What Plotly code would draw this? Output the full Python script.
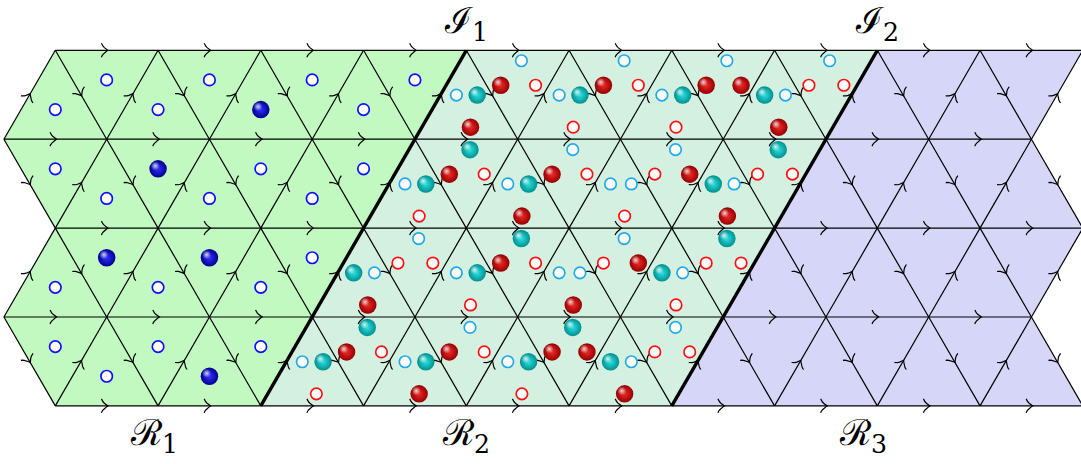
import numpy as np
import plotly.graph_objects as go

# ---------------- data (lattice units: triangle side = 1, y = 4 on the top line) ----------------
N_LINES = 5                                   # horizontal lattice lines, top (0) to bottom (4)
LINE_X_OFFSET = [0.0, -0.5, 0.0, -0.5, 0.0]   # x of the first vertex on each line
N_VERTS_PER_LINE = 11
I1_ENDS = [(4.0, 4.0), (2.0, 0.0)]            # interface I1 (top end, bottom end)
I2_ENDS = [(8.0, 4.0), (6.0, 0.0)]            # interface I2

REGION_FILLS = ["#c1f9c1", "#d4f0e1", "#d6d6f9"]

# R1: filled blue balls, given as (row, triangle kind, centroid x); every other R1 triangle has an open circle
R1_FILLED = [(0, "up", 2.0), (1, "down", 1.0), (2, "down", 0.5), (2, "down", 1.5), (3, "up", 1.5)]

# R2: site states per row, triangles left to right (1 = filled ball, 0 = open circle)
# up triangle sites: cyan-left, cyan-right, red-bottom ; down triangle sites: cyan-top, red-left, red-right
R2_ROW0 = ["011", "010", "010", "010", "010", "011", "101", "000"]
R2_ROW1 = ["010", "110", "011", "010", "000", "001", "101", "100"]
R2_ROW2 = ["101", "000", "010", "110", "001", "001", "100", "100"]
R2_ROW3 = ["010", "110", "011", "010", "010", "111", "101", "000"]
R2_ROWS = [R2_ROW0, R2_ROW1, R2_ROW2, R2_ROW3]

LABEL_TEXTS = ["ℐ<sub>1</sub>", "ℐ<sub>2</sub>", "ℛ<sub>1</sub>", "ℛ<sub>2</sub>", "ℛ<sub>3</sub>"]
LABEL_X = [4.0, 8.0, 0.96, 4.0, 7.86]
LABEL_Y = [4.30, 4.30, -0.33, -0.33, -0.33]

# ---------------- layout constants ----------------
W, H = 1081, 464
SX, SY = 102.75, 88.9          # pixels per lattice unit
X0_PX, YTOP_PX = 55.3, 50.3    # pixel of lattice x = 0, pixel of top line (y = 4)

# site offsets from the triangle centroid, in pixels (screen, y down)
UP_SITES = [(-9.9, -14.5, "c"), (10.9, -14.5, "c"), (4.2, 17.6, "r")]
DOWN_SITES = [(3.7, -19.2, "c"), (-17.0, 5.3, "r"), (17.9, 5.3, "r")]


def to_px(x, y):
    return X0_PX + SX * x, YTOP_PX + SY * (4 - y)


def from_px(px, py):
    return (px - X0_PX) / SX, 4 - (py - YTOP_PX) / SY


def line_xs(j):
    return [LINE_X_OFFSET[j] + k for k in range(N_VERTS_PER_LINE)]


def key(v):
    return round(v, 4)


# triangles
tris = []
for r in range(N_LINES - 1):
    yt, yb = 4 - r, 3 - r
    top = line_xs(r)
    topset = set(key(v) for v in top)
    bot = set(key(v) for v in line_xs(r + 1))
    for x in top:
        if key(x - 0.5) in bot and key(x + 0.5) in bot:
            tris.append((r, "up", x, yt - 2 / 3))
        if key(x + 1) in topset and key(x + 0.5) in bot:
            tris.append((r, "down", x + 0.5, yt - 1 / 3))


def region_of(cx, cy):
    b1 = I1_ENDS[1][0] + (I1_ENDS[0][0] - I1_ENDS[1][0]) * cy / 4
    b2 = I2_ENDS[1][0] + (I2_ENDS[0][0] - I2_ENDS[1][0]) * cy / 4
    if cx < b1:
        return 0
    if cx < b2:
        return 1
    return 2


# edges (oriented with increasing x)
edges = []
for j in range(N_LINES):
    xs = line_xs(j)
    y = 4 - j
    for a, b in zip(xs[:-1], xs[1:]):
        edges.append(((a, y), (b, y)))
for j in range(N_LINES - 1):
    yt, yb = 4 - j, 3 - j
    bot = set(key(v) for v in line_xs(j + 1))
    for x in line_xs(j):
        if key(x - 0.5) in bot:
            edges.append(((x - 0.5, yb), (x, yt)))
        if key(x + 0.5) in bot:
            edges.append(((x, yt), (x + 0.5, yb)))

fig = go.Figure()


def outline(side):
    return [(LINE_X_OFFSET[j] + (0 if side == "L" else N_VERTS_PER_LINE - 1), 4 - j) for j in range(N_LINES)]


left = outline("L")
right = outline("R")
polys = [
    [I1_ENDS[0]] + [I1_ENDS[1]] + left[::-1],
    [I1_ENDS[0], I2_ENDS[0], I2_ENDS[1], I1_ENDS[1]],
    [I2_ENDS[0]] + right + [I2_ENDS[1]],
]
for poly, col in zip(polys, REGION_FILLS):
    fig.add_trace(go.Scatter(x=[p[0] for p in poly] + [poly[0][0]], y=[p[1] for p in poly] + [poly[0][1]],
                             mode="lines", fill="toself", fillcolor=col, line=dict(width=0),
                             hoverinfo="skip"))

# thin lattice edges
ex, ey = [], []
for (a, b) in edges:
    ex += [a[0], b[0], None]
    ey += [a[1], b[1], None]
fig.add_trace(go.Scatter(x=ex, y=ey, mode="lines", line=dict(color="black", width=1.2), hoverinfo="skip"))

# arrow heads (pgf "to" tip) at edge midpoints
ts = np.linspace(0, 1, 7)


def bez(p0, p1, p2, p3, t):
    return ((1 - t) ** 3)[:, None] * p0 + (3 * (1 - t) ** 2 * t)[:, None] * p1 + \
           (3 * (1 - t) * t ** 2)[:, None] * p2 + (t ** 3)[:, None] * p3


s = 1.75
c1 = bez(np.array([-3, 4.0]), np.array([-2.75, 2.5]), np.array([0, 0.25]), np.array([0.75, 0]), ts) * s
c2 = bez(np.array([0.75, 0.0]), np.array([0, -0.25]), np.array([-2.75, -2.5]), np.array([-3, -4.0]), ts) * s
chev = np.vstack([c1, c2[1:]])
ax_, ay_ = [], []
for (a, b) in edges:
    pa = np.array(to_px(*a))
    pb = np.array(to_px(*b))
    m = (pa + pb) / 2
    u = (pb - pa) / np.linalg.norm(pb - pa)
    v = np.array([u[1], -u[0]])
    for cu, cv in chev:
        p = m + u * cu + v * cv
        X, Y = from_px(*p)
        ax_.append(X)
        ay_.append(Y)
    ax_.append(None)
    ay_.append(None)
fig.add_trace(go.Scatter(x=ax_, y=ay_, mode="lines", line=dict(color="black", width=1.2), hoverinfo="skip"))

# thick interfaces
for ends in (I1_ENDS, I2_ENDS):
    fig.add_trace(go.Scatter(x=[ends[0][0], ends[1][0]], y=[ends[0][1], ends[1][1]], mode="lines",
                             line=dict(color="black", width=3.4), hoverinfo="skip"))

# sites
open_pts = {"b": ([], []), "r": ([], []), "c": ([], [])}
ball_pts = {"b": ([], []), "r": ([], []), "c": ([], [])}

r1_filled = set((r, k, key(x)) for r, k, x in R1_FILLED)
r2_by_row = {r: [] for r in range(4)}
for (r, kind, cx, cy) in tris:
    reg = region_of(cx, cy)
    if reg == 0:
        tgt = ball_pts if (r, kind, key(cx)) in r1_filled else open_pts
        tgt["b"][0].append(cx)
        tgt["b"][1].append(cy)
    elif reg == 1:
        r2_by_row[r].append((cx, cy, kind))

for r in range(4):
    row = sorted(r2_by_row[r])
    for (cx, cy, kind), states in zip(row, R2_ROWS[r]):
        sites = UP_SITES if kind == "up" else DOWN_SITES
        pcx, pcy = to_px(cx, cy)
        for (dx, dy, col), st in zip(sites, states):
            X, Y = from_px(pcx + dx, pcy + dy)
            tgt = ball_pts if st == "1" else open_pts
            tgt[col][0].append(X)
            tgt[col][1].append(Y)

OPEN_COL = {"b": "#1010ff", "r": "#ff1010", "c": "#22aae8"}
BALL_EDGE = {"b": "#000090", "r": "#960000", "c": "#009090"}
BALL_MID = {"b": "#3030ff", "r": "#f02a2a", "c": "#2ee0e0"}

for c, (xs, ys) in open_pts.items():
    fig.add_trace(go.Scatter(x=xs, y=ys, mode="markers", hoverinfo="skip",
                             marker=dict(symbol="circle", size=11.5, color="white",
                                         line=dict(color=OPEN_COL[c], width=1.7))))
for c, (xs, ys) in ball_pts.items():
    fig.add_trace(go.Scatter(x=xs, y=ys, mode="markers", hoverinfo="skip",
                             marker=dict(symbol="circle", size=17.5, color=BALL_EDGE[c],
                                         gradient=dict(type="radial", color=BALL_MID[c]),
                                         line=dict(width=0))))
    hx = [x - 2.8 / SX for x in xs]
    hy = [y + 3.0 / SY for y in ys]
    fig.add_trace(go.Scatter(x=hx, y=hy, mode="markers", hoverinfo="skip",
                             marker=dict(symbol="circle", size=9, color="rgba(255,255,255,0)",
                                         gradient=dict(type="radial", color="rgba(255,255,255,0.8)"),
                                         line=dict(width=0))))

# labels
for t, x, y in zip(LABEL_TEXTS, LABEL_X, LABEL_Y):
    fig.add_annotation(x=x, y=y, text=t, showarrow=False, xanchor="center", yanchor="middle",
                       font=dict(family="DejaVu Serif", size=36, color="black"))

fig.update_layout(
    width=W, height=H, margin=dict(l=0, r=0, t=0, b=0),
    paper_bgcolor="white", plot_bgcolor="white", showlegend=False, hovermode=False,
    xaxis=dict(range=[from_px(0, 0)[0], from_px(W, 0)[0]], visible=False, fixedrange=True),
    yaxis=dict(range=[from_px(0, H)[1], from_px(0, 0)[1]], visible=False, fixedrange=True),
)
fig.write_html("out.html", config={"displayModeBar": False},
               post_script="document.body.style.margin='0px';")
